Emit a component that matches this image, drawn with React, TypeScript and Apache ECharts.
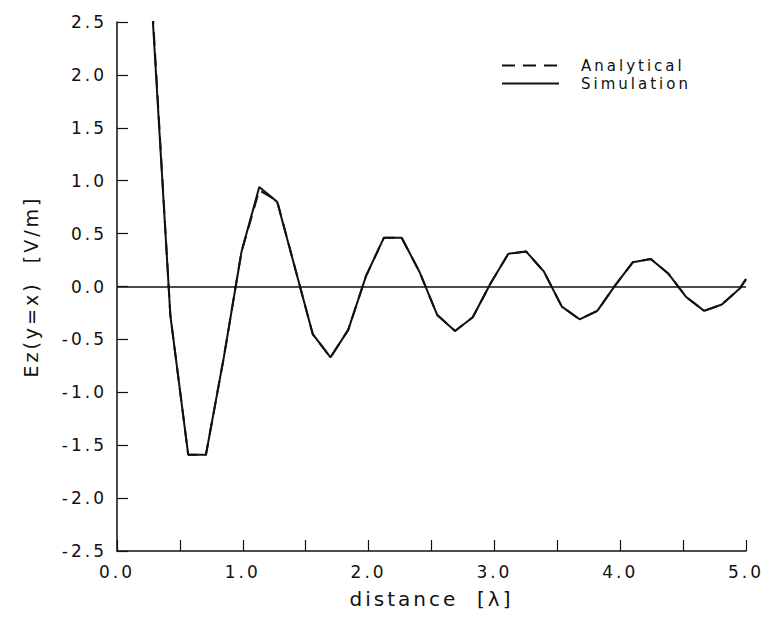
import React, { useEffect, useRef } from "react";
import * as echarts from "echarts";

// Sample positions along the y = x diagonal, in wavelengths
const distance = [
  0.283, 0.424, 0.566, 0.707, 0.849, 0.99, 1.131, 1.273, 1.414, 1.556, 1.697,
  1.838, 1.98, 2.121, 2.263, 2.404, 2.546, 2.687, 2.828, 2.97, 3.111, 3.253,
  3.394, 3.536, 3.677, 3.818, 3.96, 4.101, 4.243, 4.384, 4.525, 4.667, 4.808,
  4.95, 5.0,
];

// Ez field values [V/m]
const simulation = [
  2.55, -0.27, -1.59, -1.59, -0.67, 0.33, 0.94, 0.8, 0.18, -0.45, -0.67,
  -0.41, 0.1, 0.46, 0.46, 0.14, -0.27, -0.42, -0.29, 0.03, 0.31, 0.33, 0.14,
  -0.19, -0.31, -0.23, 0.01, 0.23, 0.26, 0.12, -0.1, -0.23, -0.17, -0.02,
  0.07,
];

const analytical = [
  2.6, -0.27, -1.59, -1.59, -0.67, 0.33, 0.91, 0.81, 0.18, -0.45, -0.67,
  -0.41, 0.1, 0.46, 0.46, 0.14, -0.27, -0.42, -0.29, 0.03, 0.31, 0.33, 0.14,
  -0.19, -0.31, -0.23, 0.01, 0.23, 0.26, 0.12, -0.1, -0.23, -0.17, -0.02,
  0.07,
];

const seriesNames = ["Analytical", "Simulation"];
const xTitle = "distance  [λ]";
const yTitle = "Ez(y=x)  [V/m]";

const FONT = "DejaVu Sans";
const INK = "#111";

export default function App() {
  const ref = useRef<HTMLDivElement>(null);

  useEffect(() => {
    if (!ref.current) return;
    const chart = echarts.init(ref.current, undefined, { renderer: "svg" });
    const pair = (ys: number[]) => distance.map((d, i) => [d, ys[i]]);

    chart.setOption({
      animation: false,
      backgroundColor: "#fff",
      textStyle: { fontFamily: FONT, color: INK },
      grid: { left: 117, right: 26, top: 22, bottom: 66 },
      legend: {
        orient: "vertical",
        left: 501,
        top: 58,
        padding: 0,
        itemWidth: 57,
        itemHeight: 14,
        itemGap: 3,
        data: seriesNames,
        // hide the marker drawn in the middle of each legend line
        itemStyle: { opacity: 0, borderWidth: 0 },
        textStyle: {
          fontFamily: FONT,
          fontSize: 15,
          color: INK,
          lineHeight: 14,
          padding: [0, 0, 0, 17],
        },
      },
      xAxis: {
        type: "value",
        min: 0,
        max: 5,
        interval: 1,
        name: xTitle,
        nameLocation: "middle",
        nameGap: 38,
        nameTextStyle: { fontFamily: FONT, fontSize: 20, color: INK },
        axisLine: { onZero: false, lineStyle: { color: INK, width: 1.5 } },
        axisTick: { inside: true, length: 11, lineStyle: { color: INK, width: 1.2 } },
        minorTick: { show: true, splitNumber: 2, length: 11, lineStyle: { color: INK, width: 1.2 } },
        splitLine: { show: false },
        minorSplitLine: { show: false },
        axisLabel: {
          margin: 12,
          fontSize: 17,
          color: INK,
          fontFamily: FONT,
          formatter: (v: number) => v.toFixed(1),
        },
      },
      yAxis: {
        type: "value",
        min: -2.5,
        max: 2.5,
        interval: 0.5,
        name: yTitle,
        nameLocation: "middle",
        nameGap: 77,
        nameTextStyle: { fontFamily: FONT, fontSize: 19, color: INK },
        axisLine: { show: true, onZero: false, lineStyle: { color: INK, width: 1.5 } },
        axisTick: { show: true, inside: true, length: 11, lineStyle: { color: INK, width: 1.2 } },
        splitLine: { show: false },
        axisLabel: {
          margin: 10,
          fontSize: 17,
          color: INK,
          fontFamily: FONT,
          formatter: (v: number) => v.toFixed(1),
        },
      },
      series: [
        {
          name: seriesNames[0],
          type: "line",
          data: pair(analytical),
          symbol: "none",
          clip: true,
          lineStyle: { color: INK, width: 2, type: [13, 8] },
          itemStyle: { color: INK },
          z: 2,
        },
        {
          name: seriesNames[1],
          type: "line",
          data: pair(simulation),
          symbol: "none",
          clip: true,
          lineStyle: { color: INK, width: 2 },
          itemStyle: { color: INK },
          z: 3,
          markLine: {
            silent: true,
            symbol: "none",
            label: { show: false },
            lineStyle: { color: INK, width: 1.6, type: "solid" },
            data: [{ yAxis: 0 }],
          },
        },
      ],
    });

    return () => chart.dispose();
  }, []);

  return (
    <div
      ref={ref}
      style={{
        position: "fixed",
        left: 0,
        top: 0,
        width: 772,
        height: 617,
        background: "#fff",
        letterSpacing: "3px",
        whiteSpace: "pre",
      }}
    />
  );
}
